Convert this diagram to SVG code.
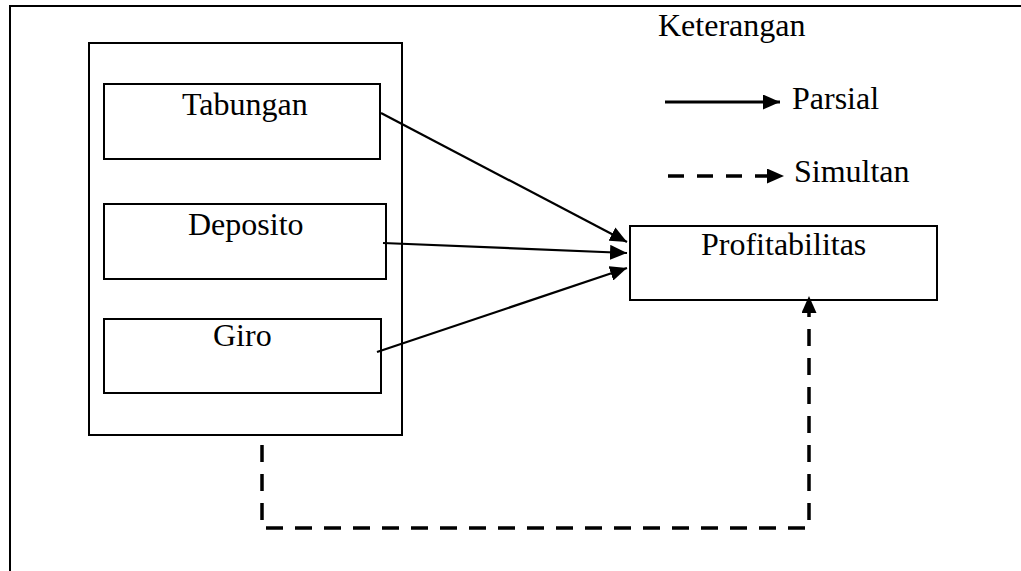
<svg xmlns="http://www.w3.org/2000/svg" width="1021" height="571" viewBox="0 0 1021 571">
  <style>
    .box { fill: none; stroke: #000; stroke-width: 2; }
    .lbl { font-family: "Liberation Serif", "Times New Roman", serif; font-size: 32px; fill: #000; }
    .solid { fill: none; stroke: #000; stroke-width: 2.2; }
    .dash { fill: none; stroke: #000; stroke-width: 3.5; stroke-dasharray: 17 12; }
  </style>
  <defs>
    <marker id="ah" markerUnits="userSpaceOnUse" markerWidth="17" markerHeight="15" viewBox="0 0 17 15" refX="17" refY="7.5" orient="auto">
      <path d="M0,0 L17,7.5 L0,15 z" fill="#000"/>
    </marker>
  </defs>
  <rect width="1021" height="571" fill="#fff"/>
  <g id="frame">
    <path class="box" d="M10,600 V6 H1040"/>
  </g>
  <g id="group-box">
    <rect class="box" x="89" y="43" width="313" height="392"/>
  </g>
  <g id="tabungan">
    <rect class="box" x="104" y="84" width="276" height="75"/>
    <text class="lbl" x="182" y="115">Tabungan</text>
  </g>
  <g id="deposito">
    <rect class="box" x="104" y="204" width="282" height="75"/>
    <text class="lbl" x="188" y="235">Deposito</text>
  </g>
  <g id="giro">
    <rect class="box" x="104" y="319" width="277" height="74"/>
    <text class="lbl" x="213" y="346">Giro</text>
  </g>
  <g id="profitabilitas">
    <rect class="box" x="630" y="226" width="307" height="74"/>
    <text class="lbl" x="701" y="255">Profitabilitas</text>
  </g>
  <g id="legend">
    <text class="lbl" x="658" y="36">Keterangan</text>
    <line x1="665" y1="102" x2="780" y2="102" stroke="#000" stroke-width="3" marker-end="url(#ah)"/>
    <text class="lbl" x="792" y="109">Parsial</text>
    <line x1="668" y1="176" x2="784" y2="176" stroke="#000" stroke-width="3.5" stroke-dasharray="16 13" marker-end="url(#ah)"/>
    <text class="lbl" x="794" y="182">Simultan</text>
  </g>
  <g id="connectors">
    <line class="solid" x1="381" y1="113" x2="627" y2="242" marker-end="url(#ah)"/>
    <line class="solid" x1="383" y1="243" x2="627" y2="253" marker-end="url(#ah)"/>
    <line class="solid" x1="377" y1="352" x2="627" y2="268" marker-end="url(#ah)"/>
    <path class="dash" d="M262,445 V528 H809 V296" marker-end="url(#ah)"/>
  </g>
</svg>
